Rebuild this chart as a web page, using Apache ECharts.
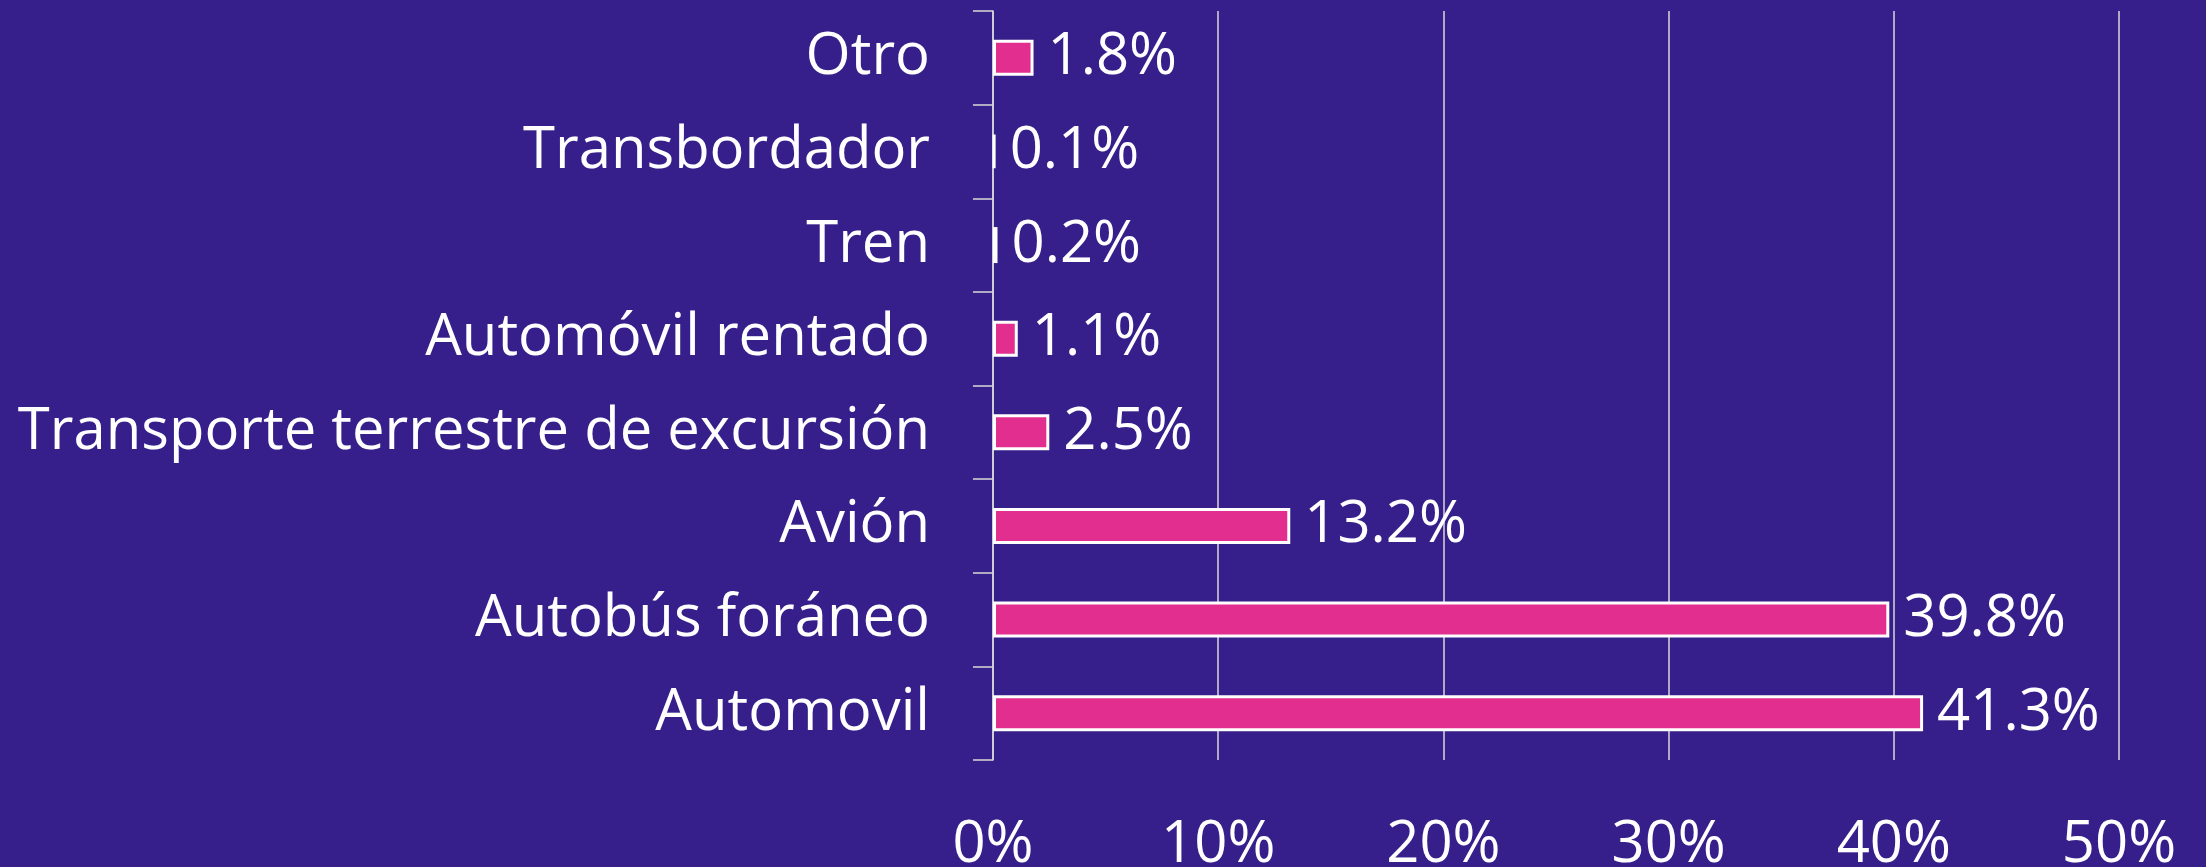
<!DOCTYPE html>
<html>
<head>
<meta charset="utf-8">
<script src="https://cdn.jsdelivr.net/npm/echarts@6/dist/echarts.min.js"></script>
<style>
html,body{margin:0;padding:0;background:#361F8A;}
#chart{width:2206px;height:867px;}
</style>
</head>
<body>
<div id="chart"></div>
<script>
const categories = ['Automovil','Autobús foráneo','Avión','Transporte terrestre de excursión','Automóvil rentado','Tren','Transbordador','Otro'];
const values = [41.3, 39.8, 13.2, 2.5, 1.1, 0.2, 0.1, 1.8];
const xTicks = [0, 10, 20, 30, 40, 50];

const FONT = '"Open Sans", "Liberation Sans", Arial, sans-serif';
const chart = echarts.init(document.getElementById('chart'), null, {renderer:'canvas'});
chart.setOption({
  backgroundColor: '#361F8A',
  animation: false,
  grid: {left: 993, right: 87, top: 11, bottom: 107, containLabel: false, outerBoundsMode: 'none'},
  xAxis: {
    type: 'value',
    min: xTicks[0], max: xTicks[xTicks.length-1], interval: 10,
    axisLine: {show: false},
    axisTick: {show: false},
    splitLine: {show: true, lineStyle: {color: '#D9D9D9', width: 1.5}},
    axisLabel: {
      color: '#FFFFFF', fontSize: 58, fontFamily: FONT, margin: 56,
      formatter: v => v + '%'
    }
  },
  yAxis: {
    type: 'category',
    data: categories,
    axisLine: {show: true, lineStyle: {color: '#D9D9D9', width: 1.5}},
    axisTick: {show: true, length: 20, alignWithLabel: false, lineStyle: {color: '#D9D9D9', width: 1.5}},
    axisLabel: {color: '#FFFFFF', fontSize: 58, fontFamily: FONT, margin: 63, padding: [34, 0, 0, 0]}
  },
  series: [{
    type: 'bar',
    data: values,
    barWidth: 36,
    itemStyle: {color: '#E22F8F', borderColor: '#FFFFFF', borderWidth: 3},
    label: {
      show: true, position: 'right', distance: 14,
      color: '#FFFFFF', fontSize: 58, fontFamily: FONT, padding: [34, 0, 0, 0],
      formatter: p => p.value.toFixed(1) + '%'
    }
  }]
});
</script>
</body>
</html>
